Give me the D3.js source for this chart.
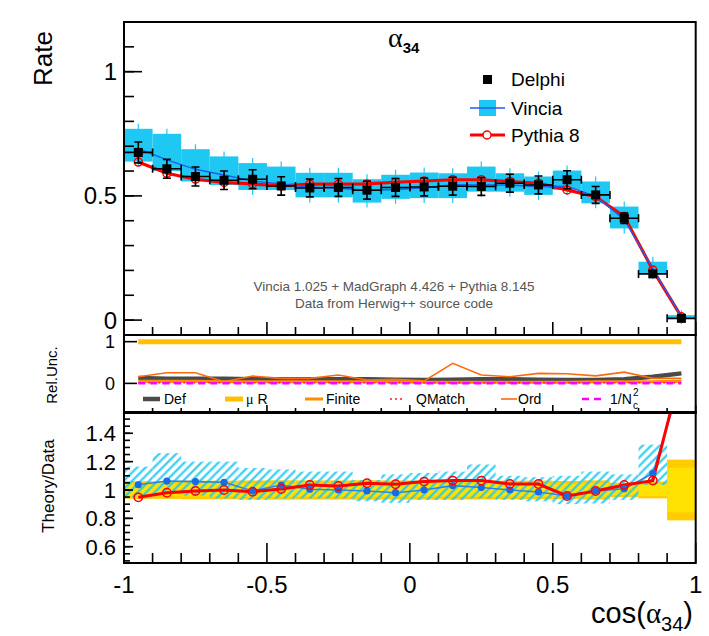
<!DOCTYPE html>
<html><head><meta charset="utf-8">
<script src="https://cdn.jsdelivr.net/npm/d3@7"></script>
<style>
html,body{margin:0;padding:0;background:#fff;}
svg{display:block;font-family:"Liberation Sans",Arial,Helvetica,sans-serif;}
</style></head>
<body>
<svg id="c" width="709" height="636"></svg>
<script>
// ---------------- DATA ----------------
const binEdges = [-1,-0.9,-0.8,-0.7,-0.6,-0.5,-0.4,-0.3,-0.2,-0.1,0,0.1,0.2,0.3,0.4,0.5,0.6,0.7,0.8,0.9,1];
const binCenters = [-0.95,-0.85,-0.75,-0.65,-0.55,-0.45,-0.35,-0.25,-0.15,-0.05,0.05,0.15,0.25,0.35,0.45,0.55,0.65,0.75,0.85,0.95];

const delphi    = [0.675,0.609,0.578,0.563,0.567,0.540,0.532,0.534,0.523,0.534,0.536,0.539,0.538,0.551,0.544,0.565,0.504,0.410,0.186,0.007];
const delphiErr = [0.042,0.038,0.038,0.037,0.038,0.037,0.036,0.036,0.036,0.036,0.036,0.036,0.036,0.036,0.036,0.036,0.034,0.021,0.011,0.0015];
const delphiStatErr = [0.030,0.027,0.027,0.026,0.027,0.026,0.025,0.025,0.025,0.025,0.025,0.025,0.025,0.025,0.025,0.025,0.024,0.015,0.008,0.0011];

const vincia    = [0.690,0.645,0.607,0.584,0.560,0.548,0.535,0.531,0.523,0.526,0.533,0.545,0.544,0.544,0.537,0.539,0.498,0.405,0.207,0.013];
const vinciaLo  = [0.638,0.600,0.558,0.544,0.524,0.524,0.494,0.494,0.473,0.488,0.491,0.491,0.517,0.517,0.504,0.524,0.470,0.369,0.185,0.004];
const vinciaHi  = [0.770,0.750,0.688,0.659,0.632,0.618,0.593,0.593,0.567,0.585,0.594,0.591,0.618,0.591,0.578,0.602,0.558,0.457,0.235,0.020];

const pythia    = [0.636,0.591,0.567,0.554,0.548,0.540,0.547,0.547,0.548,0.555,0.560,0.565,0.565,0.558,0.551,0.524,0.497,0.417,0.202,0.013];

// Relative uncertainties (middle panel)
const uncDef    = [0.13,0.11,0.11,0.11,0.10,0.10,0.10,0.10,0.10,0.09,0.08,0.09,0.10,0.10,0.09,0.08,0.08,0.10,0.16,0.24];
const uncMuR    = [1,1,1,1,1,1,1,1,1,1,1,1,1,1,1,1,1,1,1,1];
const uncFinite = [0.05,0.05,0.05,0.04,0.04,0.04,0.04,0.04,0.04,0.04,0.03,0.03,0.03,0.03,0.03,0.03,0.04,0.04,0.04,0.05];
const uncQMatch = [0.015,0.015,0.015,0.015,0.015,0.015,0.015,0.015,0.015,0.015,0.015,0.015,0.015,0.015,0.015,0.015,0.015,0.015,0.015,0.015];
const uncOrd    = [0.16,0.255,0.255,0.04,0.175,0.12,0.12,0.20,0.08,0.095,0.06,0.48,0.20,0.16,0.24,0.23,0.18,0.27,0.12,0.12];
const uncNc     = [0.005,0.005,0.005,0.005,0.005,0.005,0.005,0.005,0.005,0.005,0.005,0.005,0.005,0.005,0.005,0.005,0.005,0.005,0.005,0.005];

// Ratio panel
const pythiaRatio = [0.948,0.981,0.993,1.000,0.988,1.007,1.035,1.028,1.047,1.040,1.059,1.066,1.066,1.042,1.042,0.958,0.993,1.035,1.066,1.85];
const vinciaRatio = [1.037,1.063,1.059,1.054,0.993,1.035,1.005,1.000,0.993,0.981,1.000,1.031,1.017,1.000,0.986,0.958,0.993,1.009,1.117,1.78];
const ratioBandLo = [0.95,0.975,0.96,0.94,0.93,0.94,0.94,0.94,0.92,0.91,0.93,0.93,0.94,0.93,0.92,0.90,0.905,0.93,1.035,null];
const ratioBandHi = [1.165,1.26,1.20,1.20,1.155,1.145,1.13,1.13,1.07,1.11,1.12,1.13,1.18,1.10,1.09,1.10,1.13,1.11,1.32,null];

const xTickLabels = ["-1","-0.5","0","0.5","1"];
const topTickLabels = ["0","0.5","1"];
const midTickLabels = ["0","1"];
const botTickLabels = ["0.6","0.8","1","1.2","1.4"];

// ---------------- LAYOUT ----------------
const svg = d3.select("#c");
const X0 = 124, X1 = 695.7;
const x = d3.scaleLinear().domain([-1,1]).range([X0,X1]);
const yT = d3.scaleLinear().domain([-0.06,1.2]).range([335,22]);
const yM = d3.scaleLinear().domain([-0.71,1.16]).range([413,335]);
const yB = d3.scaleLinear().domain([0.485,1.55]).range([563,412]);

const CYAN = "#1ec8f2", BLUE = "#1f5ef0", RED = "#ff0000";
const idx = d3.range(binCenters.length);

const defs = svg.append("defs");
[["clipT",yT],["clipM",yM],["clipB",yB]].forEach(([id,s])=>{
  defs.append("clipPath").attr("id",id).append("rect")
    .attr("x",X0).attr("y",s.range()[1]).attr("width",X1-X0).attr("height",s.range()[0]-s.range()[1]);
});
const pat = defs.append("pattern").attr("id","hatch").attr("patternUnits","userSpaceOnUse")
  .attr("width",6).attr("height",6).attr("patternTransform","rotate(45)");
pat.append("line").attr("x1",1.5).attr("y1",0).attr("x2",1.5).attr("y2",6).attr("stroke",CYAN).attr("stroke-width",2);

// ---------------- TOP PANEL ----------------
const gT = svg.append("g").attr("clip-path","url(#clipT)");
gT.selectAll("rect.vb").data(idx).join("rect")
  .attr("x",i=>x(binEdges[i])).attr("width",i=>x(binEdges[i+1])-x(binEdges[i]))
  .attr("y",i=>yT(vinciaHi[i])).attr("height",i=>yT(vinciaLo[i])-yT(vinciaHi[i]))
  .attr("fill",CYAN);
gT.selectAll("line.vs").data(idx).join("line")
  .attr("x1",i=>x(binCenters[i])).attr("x2",i=>x(binCenters[i]))
  .attr("y1",i=>yT(vinciaHi[i])-5).attr("y2",i=>yT(vinciaLo[i])+5)
  .attr("stroke",CYAN).attr("stroke-width",1.2);
const lineT = d3.line().x((d,i)=>x(binCenters[i])).y(d=>yT(d));
gT.append("path").attr("d",lineT(pythia)).attr("fill","none").attr("stroke",RED).attr("stroke-width",3.2);
gT.append("path").attr("d",lineT(vincia)).attr("fill","none").attr("stroke",BLUE).attr("stroke-width",1.4);
gT.selectAll("circle.pc").data(idx).join("circle")
  .attr("cx",i=>x(binCenters[i])).attr("cy",i=>yT(pythia[i])).attr("r",4)
  .attr("fill","none").attr("stroke",RED).attr("stroke-width",1.5);
const dg = gT.append("g").attr("stroke","#000").attr("stroke-width",1.6);
idx.forEach(i=>{
  const cx = x(binCenters[i]), cy = yT(delphi[i]);
  const xl = x(binEdges[i]), xr = x(binEdges[i+1]);
  const yh = yT(delphi[i]+delphiErr[i]), yl = yT(delphi[i]-delphiErr[i]);
  dg.append("line").attr("x1",xl).attr("x2",xr).attr("y1",cy).attr("y2",cy);
  dg.append("line").attr("x1",xl).attr("x2",xl).attr("y1",cy-4).attr("y2",cy+4);
  dg.append("line").attr("x1",xr).attr("x2",xr).attr("y1",cy-4).attr("y2",cy+4);
  if (yl-yh > 4) {
    dg.append("line").attr("x1",cx).attr("x2",cx).attr("y1",yh).attr("y2",yl);
    dg.append("line").attr("x1",cx-4).attr("x2",cx+4).attr("y1",yh).attr("y2",yh);
    dg.append("line").attr("x1",cx-4).attr("x2",cx+4).attr("y1",yl).attr("y2",yl);
  }
  gT.append("rect").attr("x",cx-4.5).attr("y",cy-4.5).attr("width",9).attr("height",9).attr("fill","#000");
});

// ---------------- MIDDLE PANEL ----------------
const gM = svg.append("g").attr("clip-path","url(#clipM)");
const lineM = d3.line().x((d,i)=>x(binCenters[i])).y(d=>yM(d));
gM.append("path").attr("d",lineM(uncMuR)).attr("fill","none").attr("stroke","#ffc000").attr("stroke-width",5);
gM.append("path").attr("d",lineM(uncDef)).attr("fill","none").attr("stroke","#4a4a4a").attr("stroke-width",4.5);
gM.append("path").attr("d",lineM(uncOrd)).attr("fill","none").attr("stroke","#ff6a10").attr("stroke-width",1.6);
gM.append("path").attr("d",lineM(uncFinite)).attr("fill","none").attr("stroke","#ff8c00").attr("stroke-width",3);
gM.append("path").attr("d",lineM(uncQMatch)).attr("fill","none").attr("stroke","#ff2020").attr("stroke-width",1.5).attr("stroke-dasharray","2,3");
gM.append("path").attr("d",lineM(uncNc)).attr("fill","none").attr("stroke","#ff00ff").attr("stroke-width",2.5).attr("stroke-dasharray","7,5");

// legend (middle)
const legY = 399;
const lgM = svg.append("g").attr("font-size",14).attr("fill","#000");
const legItems = [
  {x1:143,x2:160,tx:164,stroke:"#4a4a4a",w:4.5,dash:null,label:"Def"},
  {x1:225,x2:243,tx:246,stroke:"#ffc000",w:5,dash:null,label:"μR"},
  {x1:305,x2:323,tx:326,stroke:"#ff8c00",w:3,dash:null,label:"Finite"},
  {x1:390,x2:404,tx:416,stroke:"#ff2020",w:1.5,dash:"2,3",label:"QMatch"},
  {x1:501,x2:517,tx:518,stroke:"#ff6a10",w:1.6,dash:null,label:"Ord"},
  {x1:582,x2:606,tx:610,stroke:"#ff00ff",w:2.5,dash:"7,5",label:"1/N"}
];
legItems.forEach(d=>{
  const l = lgM.append("line").attr("x1",d.x1).attr("x2",d.x2).attr("y1",legY).attr("y2",legY)
    .attr("stroke",d.stroke).attr("stroke-width",d.w);
  if (d.dash) l.attr("stroke-dasharray",d.dash);
  if (d.label==="μR") {
    const t = lgM.append("text").attr("x",d.tx).attr("y",legY+5);
    t.append("tspan").text("μ").attr("font-family","Liberation Serif");
    t.append("tspan").text(" R");
  } else if (d.label==="1/N") {
    lgM.append("text").attr("x",d.tx).attr("y",legY+5).text("1/N");
    lgM.append("text").attr("x",d.tx+23).attr("y",legY-3).attr("font-size",10).text("2");
    lgM.append("text").attr("x",d.tx+23).attr("y",legY+10).attr("font-size",10).text("c");
  } else {
    lgM.append("text").attr("x",d.tx).attr("y",legY+5).text(d.label);
  }
});

// ---------------- BOTTOM PANEL ----------------
const gB = svg.append("g").attr("clip-path","url(#clipB)");
idx.forEach(i=>{
  const e = delphiErr[i]/delphi[i], s = delphiStatErr[i]/delphi[i];
  const xl = x(binEdges[i]), w = x(binEdges[i+1])-x(binEdges[i]);
  gB.append("rect").attr("x",xl).attr("width",w).attr("y",yB(1+e)).attr("height",yB(1-e)-yB(1+e)).attr("fill","#ffcc00");
  gB.append("rect").attr("x",xl).attr("width",w).attr("y",yB(1+s)).attr("height",yB(1-s)-yB(1+s)).attr("fill","#ffe200");
});
gB.selectAll("rect.hb").data(idx.filter(i=>ratioBandLo[i]!=null)).join("rect")
  .attr("x",i=>x(binEdges[i])).attr("width",i=>x(binEdges[i+1])-x(binEdges[i]))
  .attr("y",i=>yB(ratioBandHi[i])).attr("height",i=>yB(ratioBandLo[i])-yB(ratioBandHi[i]))
  .attr("fill","url(#hatch)");
const lineB = d3.line().x((d,i)=>x(binCenters[i])).y(d=>yB(d));
gB.append("path").attr("d",lineB(vinciaRatio)).attr("fill","none").attr("stroke","#2f86e0").attr("stroke-width",1.6);
gB.append("path").attr("d",lineB(pythiaRatio)).attr("fill","none").attr("stroke",RED).attr("stroke-width",3);
gB.selectAll("circle.vr").data(idx).join("circle")
  .attr("cx",i=>x(binCenters[i])).attr("cy",i=>yB(vinciaRatio[i])).attr("r",3.6).attr("fill","#1a6ae8");
gB.selectAll("circle.pr").data(idx).join("circle")
  .attr("cx",i=>x(binCenters[i])).attr("cy",i=>yB(pythiaRatio[i])).attr("r",4.2)
  .attr("fill","none").attr("stroke",RED).attr("stroke-width",1.5);

// ---------------- FRAMES & AXES ----------------
const ax = svg.append("g").attr("stroke","#000").attr("fill","none");
function frame(s){ ax.append("rect").attr("x",X0).attr("y",s.range()[1]).attr("width",X1-X0).attr("height",s.range()[0]-s.range()[1]).attr("stroke-width",2); }
frame(yT); frame(yM); frame(yB);

function xTicks(s, majLen, minLen){
  const yb = s.range()[0];
  x.ticks(20).forEach(v=>{
    const major = Math.abs(v*2 - Math.round(v*2)) < 1e-6;
    ax.append("line").attr("x1",x(v)).attr("x2",x(v)).attr("y1",yb).attr("y2",yb-(major?majLen:minLen)).attr("stroke-width",1.6);
  });
}
xTicks(yT,13,8); xTicks(yM,8,5); xTicks(yB,20,10);

function yTicks(s, majors, minors, majLen, minLen){
  minors.forEach(v=>{ if (s(v)>=s.range()[1]-0.5 && s(v)<=s.range()[0]+0.5)
    ax.append("line").attr("x1",X0).attr("x2",X0+minLen).attr("y1",s(v)).attr("y2",s(v)).attr("stroke-width",1.6);});
  majors.forEach(v=>{
    ax.append("line").attr("x1",X0).attr("x2",X0+majLen).attr("y1",s(v)).attr("y2",s(v)).attr("stroke-width",1.6);});
}
yTicks(yT, topTickLabels.map(Number), d3.range(0,1.21,0.1).map(v=>+v.toFixed(2)), 18, 10);
yTicks(yM, midTickLabels.map(Number), [], 13, 7);
yTicks(yB, botTickLabels.map(Number), d3.range(0.5,1.56,0.05).map(v=>+v.toFixed(2)), 9, 6);

const tl = svg.append("g").attr("fill","#000");
xTickLabels.forEach(t=>{
  tl.append("text").attr("x",x(+t)).attr("y",593).attr("text-anchor","middle").attr("font-size",24).text(t);
});
topTickLabels.forEach(t=>{
  tl.append("text").attr("x",117).attr("y",yT(+t)+8.5).attr("text-anchor","end").attr("font-size",24).text(t);
});
midTickLabels.forEach(t=>{
  tl.append("text").attr("x",115).attr("y",yM(+t)+6.5).attr("text-anchor","end").attr("font-size",18).text(t);
});
botTickLabels.forEach(t=>{
  tl.append("text").attr("x",116).attr("y",yB(+t)+8).attr("text-anchor","end").attr("font-size",22).text(t);
});

tl.append("text").attr("transform","translate(52,86) rotate(-90)").attr("font-size",26).text("Rate");
tl.append("text").attr("transform","translate(57,375) rotate(-90)").attr("text-anchor","middle").attr("font-size",15).text("Rel.Unc.");
tl.append("text").attr("transform","translate(54,486) rotate(-90)").attr("text-anchor","middle").attr("font-size",17).text("Theory/Data");
const xt = tl.append("text").attr("x",693).attr("y",623).attr("text-anchor","end").attr("font-size",29);
xt.append("tspan").text("cos(");
xt.append("tspan").text("α").attr("font-family","Liberation Serif");
xt.append("tspan").text("34").attr("font-size",20).attr("dy",8);
xt.append("tspan").text(")").attr("dy",-8);

const tt = tl.append("text").attr("x",388).attr("y",47).attr("font-size",28);
tt.append("tspan").text("α").attr("font-family","Liberation Serif");
tt.append("tspan").text("34").attr("font-size",15).attr("font-weight","bold").attr("dy",6);

tl.append("text").attr("x",394).attr("y",291).attr("text-anchor","middle").attr("font-size",13.5).attr("fill","#555").text("Vincia 1.025 + MadGraph 4.426 + Pythia 8.145");
tl.append("text").attr("x",394).attr("y",308).attr("text-anchor","middle").attr("font-size",13.5).attr("fill","#555").text("Data from Herwig++ source code");

const lg = svg.append("g");
lg.append("rect").attr("x",483).attr("y",75).attr("width",9).attr("height",9).attr("fill","#000");
lg.append("text").attr("x",511).attr("y",86).attr("font-size",19).text("Delphi");
lg.append("rect").attr("x",479).attr("y",100).attr("width",17).attr("height",16).attr("fill",CYAN);
lg.append("line").attr("x1",470).attr("x2",505).attr("y1",108).attr("y2",108).attr("stroke",BLUE).attr("stroke-width",1.4);
lg.append("text").attr("x",511).attr("y",115).attr("font-size",19).text("Vincia");
lg.append("line").attr("x1",470).attr("x2",505).attr("y1",135).attr("y2",135).attr("stroke",RED).attr("stroke-width",3.2);
lg.append("circle").attr("cx",487).attr("cy",135).attr("r",4).attr("fill","#fff").attr("stroke",RED).attr("stroke-width",1.5);
lg.append("text").attr("x",511).attr("y",142).attr("font-size",19).text("Pythia 8");
</script>
</body></html>
